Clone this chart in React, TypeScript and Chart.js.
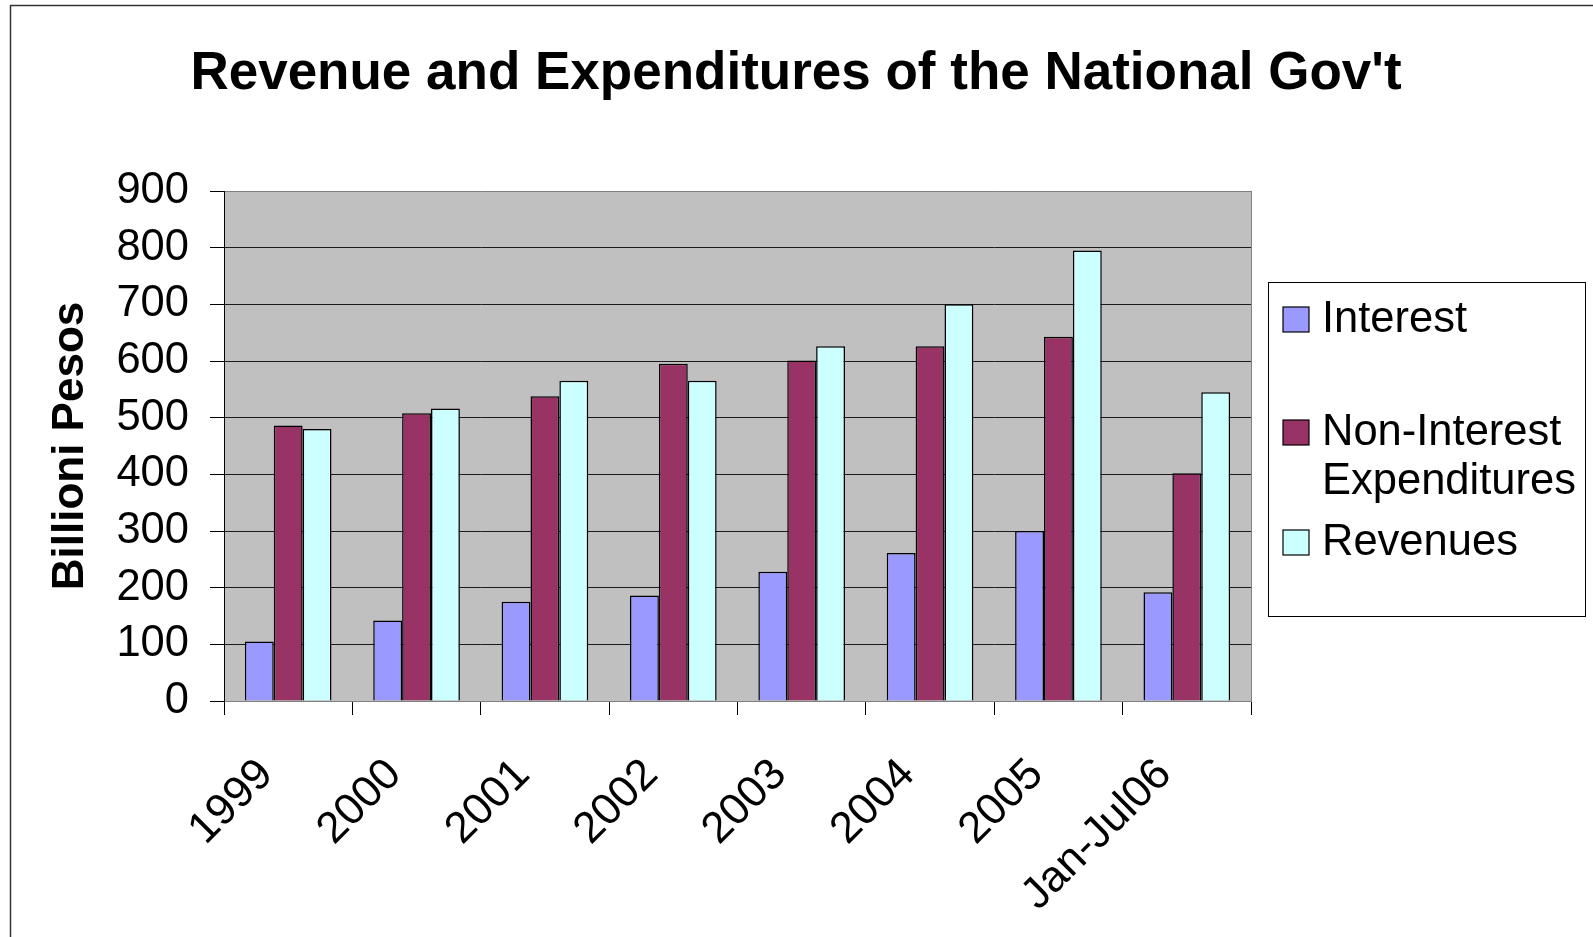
import React, { useEffect, useRef } from "react";
import { Chart, registerables } from "chart.js";

Chart.register(...registerables);

const categories = ["1999", "2000", "2001", "2002", "2003", "2004", "2005", "Jan-Jul06"];
const interest = [105, 142, 175, 186, 228, 261, 300, 192];
const nonInterest = [486, 508, 538, 595, 601, 626, 643, 402];
const revenues = [480, 516, 565, 565, 626, 700, 795, 545];
const seriesNames = ["Interest", "Non-Interest Expenditures", "Revenues"];
const legendLines = [["Interest"], ["Non-Interest", "Expenditures"], ["Revenues"]];
const seriesColors = ["#9999FF", "#993366", "#CCFFFF"];
const titleText = "Revenue and Expenditures of the National Gov't";
const yTitle = "Billioni Pesos";
const yMin = 0;
const yMax = 900;
const yStep = 100;

const FONT = "'Liberation Sans', Arial, Helvetica, sans-serif";
const W = 1593;
const H = 937;

const decorPlugin = {
  id: "decor",
  beforeDraw(chart: any) {
    const { ctx, chartArea } = chart;
    ctx.save();
    ctx.fillStyle = "#ffffff";
    ctx.fillRect(0, 0, W, H);
    ctx.fillStyle = "#C0C0C0";
    ctx.fillRect(chartArea.left, chartArea.top, chartArea.right - chartArea.left, chartArea.bottom - chartArea.top);
    ctx.restore();
  },
  afterDraw(chart: any) {
    const { ctx, chartArea } = chart;
    ctx.save();
    // outer frame
    ctx.strokeStyle = "#333333";
    ctx.lineWidth = 1.5;
    ctx.beginPath();
    ctx.moveTo(10.5, H);
    ctx.lineTo(10.5, 5.5);
    ctx.lineTo(W, 5.5);
    ctx.stroke();
    // plot right border
    ctx.strokeStyle = "#808080";
    ctx.lineWidth = 1;
    ctx.beginPath();
    ctx.moveTo(Math.round(chartArea.right) + 0.5, chartArea.top);
    ctx.lineTo(Math.round(chartArea.right) + 0.5, chartArea.bottom);
    ctx.stroke();
    // title
    ctx.fillStyle = "#000";
    ctx.font = `bold 53px ${FONT}`;
    ctx.textAlign = "center";
    ctx.textBaseline = "alphabetic";
    ctx.fillText(titleText, 796, 89);
    // legend
    const bx = 1268.5, by = 282.5, bw = 317, bh = 334;
    ctx.fillStyle = "#fff";
    ctx.fillRect(bx, by, bw, bh);
    ctx.strokeStyle = "#000";
    ctx.lineWidth = 1;
    ctx.strokeRect(bx, by, bw, bh);
    const baselines = [332, 445, 555];
    const lineGap = 49;
    ctx.font = `43.5px ${FONT}`;
    ctx.textAlign = "left";
    chart.data.datasets.forEach((ds: any, i: number) => {
      const b = baselines[i];
      ctx.fillStyle = ds.backgroundColor;
      ctx.fillRect(1283, b - 25, 26, 25);
      ctx.strokeStyle = "#000";
      ctx.lineWidth = 1.2;
      ctx.strokeRect(1283, b - 25, 26, 25);
      ctx.fillStyle = "#000";
      legendLines[i].forEach((line, j) => {
        ctx.fillText(line, 1322, b + j * lineGap);
      });
    });
    ctx.restore();
  },
};

export default function App() {
  const ref = useRef<HTMLCanvasElement | null>(null);
  useEffect(() => {
    if (!ref.current) return;
    const chart = new Chart(ref.current, {
      type: "bar",
      data: {
        labels: categories,
        datasets: [interest, nonInterest, revenues].map((d, i) => ({
          label: seriesNames[i],
          data: d,
          backgroundColor: seriesColors[i],
          borderColor: "#000",
          borderWidth: 1.5,
          categoryPercentage: 0.675,
          barPercentage: 1.0,
        })),
      },
      options: {
        responsive: false,
        animation: false,
        layout: { padding: { top: 191, right: W - 1251, left: 0, bottom: 0 } },
        plugins: {
          legend: { display: false },
          title: { display: false },
          tooltip: { enabled: false },
        },
        scales: {
          x: {
            grid: {
              display: true,
              drawOnChartArea: false,
              drawTicks: true,
              tickLength: 14,
              color: "#000",
              tickColor: "#000",
              offset: true,
            },
            border: { display: true, color: "#808080", width: 1 },
            ticks: {
              autoSkip: false,
              maxRotation: 45,
              minRotation: 45,
              padding: 34,
              labelOffset: -22,
              color: "#000",
              font: { family: FONT, size: 44 },
            },
            afterFit: (s: any) => {
              s.height = H - 701;
            },
          },
          y: {
            min: yMin,
            max: yMax,
            ticks: {
              stepSize: yStep,
              padding: 21,
              color: "#000",
              font: { family: FONT, size: 43.5 },
            },
            grid: {
              color: (c: any) => (c.tick && c.tick.value === yMax ? "#808080" : "#1a1a1a"),
              tickColor: "#000",
              tickLength: 14,
              lineWidth: 1,
            },
            border: { display: true, color: "#000", width: 1 },
            title: {
              display: true,
              text: yTitle,
              color: "#000",
              font: { family: FONT, size: 44, weight: "bold" },
              padding: { top: 44, bottom: 0 },
            },
            afterFit: (s: any) => {
              s.width = 224;
            },
          },
        },
      },
      plugins: [decorPlugin],
    } as any);
    return () => chart.destroy();
  }, []);
  return (
    <div style={{ position: "fixed", left: 0, top: 0, width: W, height: H, background: "#fff" }}>
      <canvas ref={ref} width={W} height={H} style={{ display: "block", width: W, height: H }} />
    </div>
  );
}
